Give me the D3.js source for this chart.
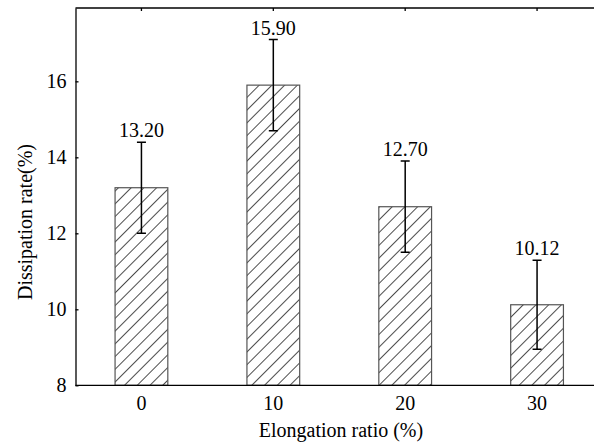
<!DOCTYPE html>
<meta charset="utf-8">
<style>
body { margin: 0; background: #fff; }
text { font-family: "Liberation Serif", "Times New Roman", serif; fill: #000; }
.axis path, .axis line { stroke: #000; stroke-width: 1.3px; }
.bar { stroke: #555; stroke-width: 1.2px; }
.err { stroke: #000; stroke-width: 1.5px; fill: none; }
</style>
<svg width="594" height="445"></svg>
<script src="https://d3js.org/d3.v7.min.js"></script>
<script>
var categories = ["0", "10", "20", "30"];
var rates = [13.20, 15.90, 12.70, 10.12];
var errors = [1.2, 1.2, 1.2, 1.17];
var labels = ["13.20", "15.90", "12.70", "10.12"];
var yTicks = [8, 10, 12, 14, 16];

var svg = d3.select("svg"),
    plotLeft = 75.5, plotTop = 8, plotBottom = 385.3, plotRight = 603;

var x = d3.scaleBand()
    .domain(categories)
    .range([plotLeft, plotRight])
    .paddingInner(0.6)
    .paddingOuter(0.3);

var y = d3.scaleLinear()
    .domain([8, 17.93])
    .range([plotBottom, plotTop]);

// diagonal hatch
svg.append("defs").append("pattern")
    .attr("id", "hatch")
    .attr("patternUnits", "userSpaceOnUse")
    .attr("width", 9)
    .attr("height", 9)
    .attr("patternTransform", "rotate(45)")
  .append("line")
    .attr("x1", 0).attr("y1", 0)
    .attr("x2", 0).attr("y2", 9)
    .attr("stroke", "#000")
    .attr("stroke-width", 1.4);

var g = svg.append("g");

g.selectAll(".bar")
    .data(rates)
  .enter().append("rect")
    .attr("class", "bar")
    .attr("x", function(d, i) { return x(categories[i]); })
    .attr("width", x.bandwidth())
    .attr("y", function(d) { return y(d); })
    .attr("height", function(d) { return plotBottom - y(d); })
    .attr("fill", "url(#hatch)");

var cx = function(i) { return x(categories[i]) + x.bandwidth() / 2; };
var cap = 4.5;

g.selectAll(".err")
    .data(rates)
  .enter().append("path")
    .attr("class", "err")
    .attr("d", function(d, i) {
      var c = cx(i), hi = y(d + errors[i]), lo = y(d - errors[i]);
      return "M" + c + "," + hi + "V" + lo +
             "M" + (c - cap) + "," + hi + "H" + (c + cap) +
             "M" + (c - cap) + "," + lo + "H" + (c + cap);
    });

g.selectAll(".val")
    .data(rates)
  .enter().append("text")
    .attr("class", "val")
    .attr("x", function(d, i) { return cx(i); })
    .attr("y", function(d, i) { return y(d + errors[i]) - 5; })
    .attr("text-anchor", "middle")
    .attr("font-size", "20px")
    .text(function(d, i) { return labels[i]; });

// axes
svg.append("g")
    .attr("class", "axis")
    .attr("transform", "translate(" + plotLeft + ",0)")
    .call(d3.axisLeft(y).tickValues(yTicks).tickSizeInner(-3).tickSizeOuter(0).tickPadding(9))
    .call(function(s) { s.selectAll("text").attr("font-size", "20px"); });

svg.append("g")
    .attr("class", "axis")
    .attr("transform", "translate(0," + plotBottom + ")")
    .call(d3.axisBottom(x).tickSize(0).tickPadding(11))
    .call(function(s) {
      s.select(".domain").attr("d", "M" + plotLeft + ",0H" + plotRight);
      s.selectAll("text").attr("font-size", "20px");
    });

svg.append("g")
    .attr("class", "axis")
    .attr("transform", "translate(0," + plotTop + ")")
    .call(d3.axisTop(x).tickSizeInner(-3).tickSizeOuter(0).tickFormat(""))
    .call(function(s) { s.select(".domain").attr("d", "M" + plotLeft + ",0H" + plotRight); });

svg.append("text")
    .attr("x", 341)
    .attr("y", 436.7)
    .attr("text-anchor", "middle")
    .attr("font-size", "20px")
    .text("Elongation ratio (%)");

svg.append("text")
    .attr("transform", "translate(32,222) rotate(-90)")
    .attr("text-anchor", "middle")
    .attr("font-size", "20px")
    .text("Dissipation rate(%)");
</script>
